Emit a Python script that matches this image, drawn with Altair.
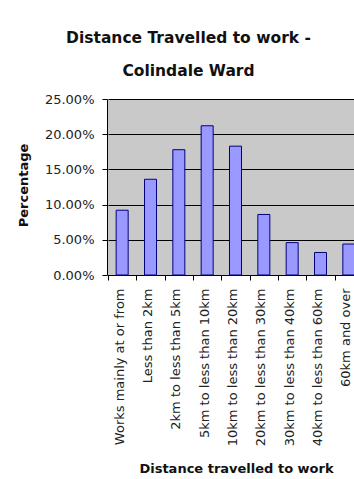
import altair as alt
import pandas as pd

# Commuting distance bands and the share of working residents in each
categories = [
    "Works mainly at or from",
    "Less than 2km",
    "2km to less than 5km",
    "5km to less than 10km",
    "10km to less than 20km",
    "20km to less than 30km",
    "30km to less than 40km",
    "40km to less than 60km",
    "60km and over",
]
shares = [0.092, 0.136, 0.178, 0.212, 0.183, 0.086, 0.046, 0.032, 0.044]
y_ticks = [0.0, 0.05, 0.10, 0.15, 0.20, 0.25]

title_lines = ["Distance Travelled to work -", "Colindale Ward"]

df = pd.DataFrame({"distance": categories, "share": shares})

FONT = "DejaVu Sans"

bars = alt.Chart(df).mark_bar(
    size=12, color="#9999ff", stroke="#000080", strokeWidth=1
).encode(
    x=alt.X(
        "distance:N",
        sort=categories,
        scale=alt.Scale(range=[1, 256], paddingInner=0, paddingOuter=0),
        axis=alt.Axis(
            title="Distance travelled to work",
            labelAngle=270,
            labelAlign="right",
            labelBaseline="middle",
            labelOffset=-3,
            labelPadding=8,
            labelFont=FONT,
            labelFontSize=13,
            labelColor="#222222",
            tickBand="extent",
            tickSize=5,
            tickColor="#000000",
            domainColor="#000000",
            grid=False,
            titleFont=FONT,
            titleFontSize=13,
            titleFontWeight="bold",
            titleColor="#111111",
            titleX=129,
            titleY=193,
            titleAlign="center",
            titleBaseline="middle",
        ),
    ),
    y=alt.Y(
        "share:Q",
        scale=alt.Scale(domain=[0, 0.25], nice=False),
        axis=alt.Axis(
            title="Percentage",
            values=y_ticks,
            format=".2%",
            labelFont=FONT,
            labelFontSize=13,
            labelColor="#222222",
            labelPadding=8,
            tickSize=5,
            tickColor="#000000",
            domainColor="#000000",
            grid=True,
            gridColor="#000000",
            gridWidth=1,
            titleFont=FONT,
            titleFontSize=13,
            titleFontWeight="bold",
            titleColor="#111111",
            titleAngle=270,
            titleX=-84,
            titleY=86,
            titleAlign="center",
            titleBaseline="middle",
        ),
    ),
)

chart = bars.properties(
    width=247,
    height=176,
    title=alt.TitleParams(
        text=title_lines,
        font=FONT,
        fontSize=15.5,
        fontWeight="bold",
        lineHeight=33,
        anchor="middle",
        dx=-42,
        offset=14,
        color="#111111",
    ),
    autosize=alt.AutoSizeParams(type="none"),
    padding={"left": 107, "top": 99, "right": 0, "bottom": 204},
    background="#ffffff",
).configure_view(
    fill="#c9c9c9", stroke="transparent"
)

chart.save("out.html", embed_options={"renderer": "svg", "actions": False})
